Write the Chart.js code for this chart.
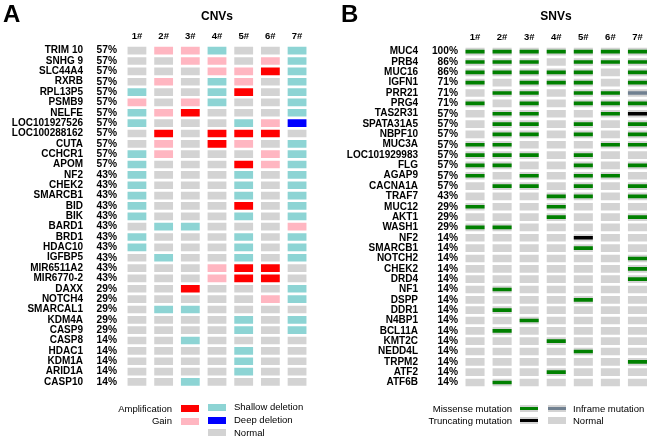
<!DOCTYPE html>
<html>
<head>
<meta charset="utf-8">
<script src="https://cdn.jsdelivr.net/npm/chart.js@4.4.0/dist/chart.umd.min.js"></script>
<style>
body { margin: 0; width: 650px; height: 439px; overflow: hidden; background: #fff; position: relative;
       font-family: "Liberation Sans", Arial, sans-serif; color: #000; }
.wrap { position: absolute; top: 0; height: 439px; }
#wrapA { left: 0; width: 325px; }
#wrapB { left: 325px; width: 340px; }
.txt { position: absolute; line-height: 1; white-space: nowrap; transform: translateY(-50%); }
.panel { font-weight: bold; font-size: 24px; }
.title { font-weight: bold; font-size: 12px; transform: translate(-50%, -50%); }
.leg { font-size: 9.5px; }
.sw { position: absolute; width: 18px; height: 7px; }
.line { position: absolute; left: 0; top: 2px; width: 18px; height: 3px; }
</style>
</head>
<body>
<div class="wrap" id="wrapA"><canvas id="cnvChart"></canvas></div>
<div class="wrap" id="wrapB"><canvas id="snvChart"></canvas></div>

<div class="txt panel" style="left:3px; top:14px;">A</div>
<div class="txt title" style="left:217px; top:16px;">CNVs</div>
<div class="txt panel" style="left:341px; top:14px;">B</div>
<div class="txt title" style="left:556px; top:16px;">SNVs</div>

<!-- legenda CNV -->
<div class="txt leg" style="right:478px; top:409px;">Amplification</div>
<div class="sw" style="left:181px; top:405px; background:#ff0000;"></div>
<div class="txt leg" style="right:478px; top:421px;">Gain</div>
<div class="sw" style="left:181px; top:418px; background:#ffb6c1;"></div>
<div class="sw" style="left:208px; top:404px; background:#8dd4d4;"></div>
<div class="txt leg" style="left:234px; top:407px;">Shallow deletion</div>
<div class="sw" style="left:208px; top:417px; background:#0000ff;"></div>
<div class="txt leg" style="left:234px; top:420px;">Deep deletion</div>
<div class="sw" style="left:208px; top:429px; background:#d3d3d3;"></div>
<div class="txt leg" style="left:234px; top:433px;">Normal</div>

<!-- legenda SNV -->
<div class="txt leg" style="right:138px; top:409px;">Missense mutation</div>
<div class="sw" style="left:520px; top:405px; background:#d3d3d3;"><div class="line" style="background:#008000;"></div></div>
<div class="sw" style="left:548px; top:405px; background:#d3d3d3;"><div class="line" style="background:#708090;"></div></div>
<div class="txt leg" style="left:573px; top:409px;">Inframe mutation</div>
<div class="txt leg" style="right:138px; top:421px;">Truncating mutation</div>
<div class="sw" style="left:520px; top:417px; background:#d3d3d3;"><div class="line" style="background:#000000;"></div></div>
<div class="sw" style="left:548px; top:417px; background:#d3d3d3;"></div>
<div class="txt leg" style="left:573px; top:421px;">Normal</div>

<script>
// amostras
const samples = ["1#", "2#", "3#", "4#", "5#", "6#", "7#"];

// CNVs: N normal, G gain, A amplification, S shallow deletion, D deep deletion
const cnvGenes = ["TRIM 10", "SNHG 9", "SLC44A4", "RXRB", "RPL13P5", "PSMB9", "NELFE", "LOC101927526",
    "LOC100288162", "CUTA", "CCHCR1", "APOM", "NF2", "CHEK2", "SMARCB1", "BID", "BIK", "BARD1", "BRD1",
    "HDAC10", "IGFBP5", "MIR6511A2", "MIR6770-2", "DAXX", "NOTCH4", "SMARCAL1", "KDM4A", "CASP9",
    "CASP8", "HDAC1", "KDM1A", "ARID1A", "CASP10"];
const cnvFreq = ["57%", "57%", "57%", "57%", "57%", "57%", "57%", "57%", "57%", "57%", "57%", "57%",
    "43%", "43%", "43%", "43%", "43%", "43%", "43%", "43%", "43%", "43%", "43%",
    "29%", "29%", "29%", "29%", "29%", "14%", "14%", "14%", "14%", "14%"];
const cnvCalls = ["NGGSNNS", "NNGGNGS", "NNNGGAS", "NGNSGNS", "SNNSANS", "GNGSNNS", "SGANNNS", "SNNNSGD",
    "NANAAAN", "NGNAGNS", "SGNNNGS", "SNNNAGS", "SNNNSNS", "SNNNSNS", "SNNNSNS", "SNNNANS", "SNNNSNS",
    "NSSNNNG", "SNNNSNS", "SNNNSNS", "NSNNSNS", "NNNGAAN", "NNNGAAN", "NNANNNS", "NNNNNGS", "NSSNNNN",
    "NNNNSNS", "NNNNSNS", "NNSNNNN", "NNNNSNN", "NNNNSNN", "NNNNSNN", "NNSNNNN"];

// SNVs: N normal, M missense, T truncating, I inframe
const snvGenes = ["MUC4", "PRB4", "MUC16", "IGFN1", "PRR21", "PRG4", "TAS2R31", "SPATA31A5", "NBPF10",
    "MUC3A", "LOC101929983", "FLG", "AGAP9", "CACNA1A", "TRAF7", "MUC12", "AKT1", "WASH1", "NF2",
    "SMARCB1", "NOTCH2", "CHEK2", "DRD4", "NF1", "DSPP", "DDR1", "N4BP1", "BCL11A", "KMT2C", "NEDD4L",
    "TRPM2", "ATF2", "ATF6B"];
const snvFreq = ["100%", "86%", "86%", "71%", "71%", "71%", "57%", "57%", "57%", "57%", "57%", "57%",
    "57%", "57%", "43%", "29%", "29%", "29%", "14%", "14%", "14%", "14%", "14%", "14%", "14%", "14%",
    "14%", "14%", "14%", "14%", "14%", "14%", "14%"];
const snvCalls = ["MMMMMMM", "MMMNMMM", "MMMMMNM", "MNMMMNM", "NMMNMMI", "MNMNMMM", "NMMNNMT", "NMMNMNM",
    "NMMNMNM", "MMNNNMM", "MMMNMNN", "MMNNMNM", "MNMNMMN", "NMMNMNM", "NNNMMNM", "MNNMNNN", "NNNMNNM",
    "MMNNNNN", "NNNNTNN", "NNNNMNN", "NNNNNNM", "NNNNNNM", "NNNNNNM", "NMNNNNN", "NNNNMNN", "NMNNNNN",
    "NNMNNNN", "NMNNNNN", "NNNMNNN", "NNNNMNN", "NNNNNNM", "NNNMNNN", "NMNNNNN"];

const cnvColors = { N: "#d3d3d3", G: "#ffb6c1", A: "#ff0000", S: "#8dd4d4", D: "#0000ff" };
const snvColors = { M: "#008000", T: "#000000", I: "#708090" };

Chart.defaults.font.family = "'Liberation Sans', Arial, sans-serif";
Chart.defaults.color = "#000";

const HALF = 0.34;

function gridOptions(freqs, geneW, freqW, geneLabelPad, freqLabelPad, padding) {
    return {
        indexAxis: "y",
        responsive: true,
        maintainAspectRatio: false,
        animation: false,
        events: [],
        layout: { padding: padding },
        plugins: { legend: { display: false }, tooltip: { enabled: false } },
        scales: {
            x: {
                type: "linear",
                position: "top",
                min: 0.5,
                max: 7.5,
                grid: { display: false, drawTicks: false },
                border: { display: false },
                afterBuildTicks: (s) => { s.ticks = samples.map((_, i) => ({ value: i + 1 })); },
                afterFit: (s) => { s.height = 16; },
                ticks: {
                    callback: (v) => samples[v - 1],
                    font: { size: 9.5, weight: "bold" },
                    padding: 3.5,
                    maxRotation: 0,
                    autoSkip: false,
                },
            },
            y: {
                type: "category",
                position: "left",
                offset: true,
                weight: 2,
                grid: { display: false, drawTicks: false },
                border: { display: false },
                afterFit: (s) => { s.width = geneW; },
                ticks: { font: { size: 10, weight: "bold" }, padding: geneLabelPad, autoSkip: false },
            },
            yFreq: {
                type: "category",
                axis: "y",
                position: "left",
                offset: true,
                weight: 1,
                labels: freqs,
                grid: { display: false, drawTicks: false },
                border: { display: false },
                afterFit: (s) => { s.width = freqW; },
                ticks: { font: { size: 10.2, weight: "bold" }, padding: freqLabelPad, autoSkip: false },
            },
        },
    };
}

// Gráfico CNV
const cnvDatasets = samples.map((s, c) => ({
    label: s,
    data: cnvGenes.map(() => [c + 1 - HALF, c + 1 + HALF]),
    backgroundColor: cnvCalls.map((row) => cnvColors[row[c]]),
    barThickness: 7,
    grouped: false,
}));

new Chart(document.getElementById("cnvChart"), {
    type: "bar",
    data: { labels: cnvGenes, datasets: cnvDatasets },
    options: gridOptions(cnvFreq, 87, 36.6, 4, 6.6, { top: 29.5, bottom: 51.9, left: 0, right: 14.6 }),
});

// Gráfico SNV: fundo cinza + linha da mutação
const snvDatasets = [];
samples.forEach((s, c) => {
    snvDatasets.push({
        label: s + " mut",
        data: snvCalls.map((row) => (row[c] !== "N" ? [c + 1 - HALF, c + 1 + HALF] : null)),
        backgroundColor: snvCalls.map((row) => snvColors[row[c]] || "#d3d3d3"),
        barThickness: 3,
        grouped: false,
        order: 0,
    });
    snvDatasets.push({
        label: s,
        data: snvGenes.map(() => [c + 1 - HALF, c + 1 + HALF]),
        backgroundColor: "#d3d3d3",
        barThickness: 7,
        grouped: false,
        order: 1,
    });
});

new Chart(document.getElementById("snvChart"), {
    type: "bar",
    data: { labels: snvGenes, datasets: snvDatasets },
    options: gridOptions(snvFreq, 97, 39.5, 4, 3.5, { top: 30.5, bottom: 51.3, left: 0, right: 14 }),
});
</script>
</body>
</html>
